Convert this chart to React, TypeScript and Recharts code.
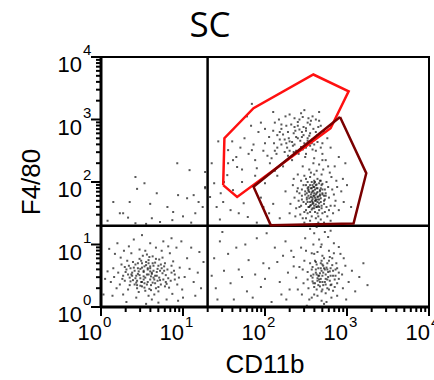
import { ScatterChart, Scatter, XAxis, YAxis, ReferenceLine, ReferenceArea } from 'recharts'

type Pt = [number, number]

// every event is stored in decades: [log10 CD11b, log10 F4/80]
const lowLeft: Pt[] = [
  [0.62, 0.55], [0.48, 0.61], [0.71, 0.47], [0.55, 0.72], [0.38, 0.5], [0.66, 0.38], [0.81, 0.6], [0.44, 0.42], [0.59, 0.29], [0.73, 0.68],
  [0.29, 0.64], [0.52, 0.49], [0.9, 0.52], [0.35, 0.35], [0.63, 0.81], [0.47, 0.77], [0.78, 0.33], [0.21, 0.55], [0.57, 0.6], [0.68, 0.56],
  [0.41, 0.58], [0.85, 0.42], [0.5, 0.33], [0.32, 0.74], [0.75, 0.79], [0.6, 0.44], [0.96, 0.63], [0.26, 0.45], [0.45, 0.53], [0.7, 0.25],
  [0.54, 0.9], [0.37, 0.86], [0.88, 0.73], [0.15, 0.62], [0.64, 0.66], [0.49, 0.4], [1.02, 0.48], [0.33, 0.28], [0.79, 0.51], [0.58, 0.18],
  [0.42, 0.68], [0.67, 0.95], [0.24, 0.79], [0.93, 0.36], [0.53, 0.65], [0.76, 0.44], [0.39, 0.43], [0.12, 0.4], [0.61, 0.35], [0.84, 0.86],
  [1.08, 0.61], [0.46, 0.24], [0.3, 0.56], [0.72, 0.58], [0.56, 0.52], [0.19, 0.3], [0.99, 0.28], [0.65, 0.2], [0.34, 0.97], [0.87, 0.21],
  [0.51, 0.82], [0.08, 0.57], [0.74, 0.9], [0.43, 0.15], [1.13, 0.4], [0.27, 0.2], [0.6, 1.02], [0.92, 0.95], [0.17, 0.85], [0.8, 0.12],
  [0.36, 0.62], [0.69, 0.42], [1.05, 0.78], [0.23, 0.36], [0.57, 0.4], [0.47, 0.92], [0.83, 0.31], [0.05, 0.45], [0.62, 0.12], [1.18, 0.55],
  [0.4, 1.08], [0.95, 0.47], [0.28, 0.9], [0.76, 1.05], [0.14, 0.18], [1.0, 0.15], [0.5, 1.15], [1.22, 0.3], [0.31, 0.08], [0.86, 1.1],
  [0.55, 0.05], [1.1, 0.95], [0.2, 1.02], [0.7, 0.07], [1.25, 0.72], [0.1, 0.93], [0.44, 0.3], [0.63, 0.7], [0.52, 0.58], [0.77, 0.65],
  [0.35, 0.47], [0.58, 0.75], [0.89, 0.58], [0.41, 0.36], [0.66, 0.5], [0.25, 0.68], [1.15, 0.18], [0.82, 0.97], [0.03, 0.2], [0.98, 1.05],
  [0.48, 0.46], [0.73, 0.36], [0.6, 0.62], [0.54, 0.26], [0.39, 0.72], [0.86, 0.66], [1.2, 0.88], [0.16, 0.48], [0.94, 0.1], [0.67, 0.3],
  [0.45, 0.62], [0.56, 0.84], [0.71, 0.76], [0.33, 0.52], [0.64, 0.47], [0.5, 0.7], [0.79, 0.4], [0.43, 0.5], [0.6, 0.57], [0.53, 0.38],
]

const lowLeftCore: Pt[] = [
  [0.58, 0.52], [0.46, 0.57], [0.69, 0.61], [0.52, 0.44], [0.63, 0.39], [0.4, 0.63], [0.75, 0.54], [0.55, 0.67], [0.36, 0.41], [0.7, 0.32],
  [0.49, 0.74], [0.61, 0.49], [0.82, 0.46], [0.44, 0.35], [0.57, 0.62], [0.66, 0.71], [0.31, 0.6], [0.78, 0.7], [0.53, 0.31], [0.47, 0.51],
  [0.72, 0.43], [0.38, 0.55], [0.59, 0.8], [0.86, 0.55], [0.42, 0.46], [0.64, 0.58], [0.5, 0.63], [0.27, 0.5], [0.74, 0.62], [0.56, 0.36],
  [0.68, 0.5], [0.45, 0.7], [0.61, 0.27], [0.8, 0.37], [0.34, 0.66], [0.52, 0.56], [0.65, 0.44], [0.43, 0.39], [0.77, 0.58], [0.58, 0.7],
  [0.48, 0.34], [0.7, 0.66], [0.37, 0.52], [0.62, 0.53], [0.54, 0.47], [0.9, 0.44], [0.29, 0.42], [0.67, 0.77], [0.5, 0.4], [0.6, 0.65],
]

const lowRight: Pt[] = [
  [2.65, 0.5], [2.72, 0.62], [2.58, 0.41], [2.8, 0.35], [2.69, 0.74], [2.52, 0.56], [2.77, 0.48], [2.63, 0.28], [2.86, 0.6], [2.55, 0.7],
  [2.74, 0.22], [2.6, 0.85], [2.9, 0.45], [2.47, 0.38], [2.68, 0.96], [2.82, 0.78], [2.57, 0.15], [2.95, 0.3], [2.42, 0.64], [2.7, 0.4],
  [2.62, 0.6], [2.78, 0.9], [2.5, 0.9], [2.88, 0.18], [2.66, 1.08], [2.45, 0.2], [2.98, 0.66], [2.59, 1.0], [2.75, 0.08], [2.84, 1.02],
  [2.38, 0.47], [2.64, 0.18], [2.92, 0.85], [2.53, 0.3], [2.71, 0.55], [2.6, 1.18], [2.8, 0.62], [2.49, 1.1], [3.02, 0.4], [2.67, 0.33],
  [2.76, 0.7], [2.56, 0.5], [2.83, 0.26], [2.62, 0.72], [2.73, 1.2], [2.35, 0.8], [2.94, 0.52], [2.69, 0.1], [2.51, 0.02], [2.85, 0.44],
  [2.64, 0.88], [2.79, 0.57], [2.44, 0.95], [2.99, 0.12], [2.58, 0.64], [2.7, 0.82], [2.87, 0.7], [2.55, 1.25], [2.66, 0.44], [2.81, 0.15],
  [3.06, 0.58], [2.4, 0.28], [2.74, 0.36], [2.61, 0.38], [2.77, 1.12], [2.9, 0.96], [2.48, 0.74], [2.68, 0.62], [2.83, 0.5], [2.57, 0.86],
  [3.1, 0.25], [2.63, 1.28], [2.72, 0.05], [2.52, 0.44], [2.96, 0.78], [2.67, 0.54], [2.78, 0.28], [2.46, 0.6], [2.88, 0.38], [2.6, 0.2],
  [2.7, 0.68], [2.59, 0.52], [2.76, 0.44], [2.84, 0.86], [2.64, 0.42], [2.73, 0.6], [3.15, 0.48], [2.54, 0.12], [2.69, 1.0], [2.8, 1.22],
  [3.2, 0.7], [3.25, 0.35],
]

const lowRightCore: Pt[] = [
  [2.68, 0.45], [2.74, 0.52], [2.62, 0.55], [2.79, 0.42], [2.71, 0.66], [2.65, 0.35], [2.83, 0.58], [2.58, 0.47], [2.76, 0.3], [2.69, 0.58],
  [2.86, 0.5], [2.63, 0.68], [2.73, 0.4], [2.6, 0.32], [2.78, 0.74], [2.66, 0.5], [2.81, 0.36], [2.7, 0.28], [2.57, 0.6], [2.75, 0.63],
  [2.88, 0.62], [2.64, 0.46], [2.72, 0.78], [2.8, 0.5], [2.67, 0.4], [2.77, 0.56], [2.61, 0.74], [2.85, 0.32], [2.7, 0.5], [2.74, 0.45],
  [2.68, 0.7], [2.82, 0.67], [2.59, 0.38], [2.76, 0.6], [2.65, 0.62], [2.9, 0.55], [2.71, 0.35], [2.63, 0.52], [2.79, 0.8], [2.69, 0.25],
]

const lowTail: Pt[] = [
  [1.4, 0.3], [1.55, 0.85], [1.72, 0.48], [1.9, 1.1], [2.05, 0.62], [2.2, 0.2], [1.62, 0.12], [1.8, 0.75], [2.12, 0.95], [2.28, 0.55],
  [1.45, 1.05], [1.95, 0.32], [2.32, 0.9], [1.68, 0.6], [2.18, 0.4], [1.5, 0.58], [2.02, 1.18], [1.85, 0.15], [2.25, 1.05], [1.38, 0.78],
  [2.08, 0.08], [1.76, 1.0], [2.3, 0.28], [1.58, 0.38], [1.98, 0.7], [2.15, 0.72], [1.42, 0.12], [1.88, 0.52], [2.35, 0.65], [1.65, 0.95],
  [2.22, 0.82], [1.35, 0.5], [2.0, 0.45], [1.78, 0.25], [2.26, 0.12], [1.48, 1.2],
]

const macrophages: Pt[] = [
  [2.58, 1.85], [2.62, 1.72], [2.5, 1.95], [2.68, 1.9], [2.55, 1.62], [2.64, 2.05], [2.45, 1.78], [2.72, 1.65], [2.6, 1.98], [2.52, 1.5],
  [2.7, 1.8], [2.48, 2.1], [2.66, 1.55], [2.57, 1.7], [2.75, 2.0], [2.42, 1.6], [2.61, 1.88], [2.54, 2.2], [2.78, 1.75], [2.5, 1.42],
  [2.63, 1.6], [2.69, 2.12], [2.4, 1.9], [2.56, 1.8], [2.82, 1.88], [2.47, 1.68], [2.65, 1.45], [2.59, 2.3], [2.73, 1.52], [2.53, 1.92],
  [2.67, 1.78], [2.44, 2.02], [2.8, 1.62], [2.58, 1.58], [2.62, 1.95], [2.36, 1.75], [2.71, 2.2], [2.55, 1.38], [2.86, 1.7], [2.49, 1.85],
  [2.64, 1.68], [2.6, 2.12], [2.77, 1.92], [2.51, 1.75], [2.68, 1.4], [2.43, 1.48], [2.57, 2.0], [2.74, 1.82], [2.46, 2.25], [2.63, 1.82],
  [2.9, 1.55], [2.38, 1.58], [2.59, 1.66], [2.7, 1.97], [2.53, 1.6], [2.66, 2.28], [2.48, 1.35], [2.81, 2.08], [2.56, 1.9], [2.61, 1.52],
  [2.34, 1.95], [2.73, 1.72], [2.5, 2.05], [2.65, 1.62], [2.88, 1.92], [2.57, 1.45], [2.42, 1.82], [2.69, 1.58], [2.6, 1.78], [2.76, 1.45],
  [2.52, 1.68], [2.63, 2.18], [2.45, 1.72], [2.84, 1.8], [2.55, 2.08], [2.67, 1.85], [2.4, 2.12], [2.72, 1.35], [2.58, 1.75], [2.31, 1.65],
  [2.79, 2.15], [2.5, 1.55], [2.62, 1.42], [2.93, 1.85], [2.47, 1.95], [2.66, 1.72], [2.54, 1.84], [2.7, 2.35], [2.37, 1.45], [2.83, 1.5],
  [2.59, 1.92], [2.64, 1.5], [2.44, 1.62], [2.75, 1.6], [2.56, 2.15], [2.68, 1.68], [2.51, 1.82], [2.87, 2.02], [2.6, 1.62], [2.48, 1.52],
  [2.73, 1.88], [2.35, 2.05], [2.62, 1.8], [2.55, 1.52], [2.8, 1.38], [2.67, 2.02], [2.45, 1.88], [2.58, 1.68], [2.96, 1.68], [2.52, 2.0],
  [2.7, 1.5], [2.41, 1.7], [2.63, 1.9], [2.77, 2.25], [2.57, 1.56], [2.65, 1.35], [2.5, 1.65], [2.85, 1.62], [2.6, 2.02], [2.46, 1.42],
  [2.72, 1.78], [2.54, 1.74], [2.66, 1.98], [2.39, 1.85], [2.78, 1.55], [2.61, 1.7], [2.53, 1.88], [2.69, 1.62], [2.58, 1.95], [2.64, 1.76],
  [3.0, 1.95], [3.05, 1.6], [2.98, 2.3], [2.9, 2.4], [2.85, 2.25], [2.95, 2.05],
]

const macrophageCore: Pt[] = [
  [2.6, 1.82], [2.56, 1.76], [2.64, 1.9], [2.58, 1.65], [2.67, 1.8], [2.53, 1.86], [2.62, 1.7], [2.7, 1.88], [2.55, 1.95], [2.63, 1.6],
  [2.59, 1.78], [2.66, 1.66], [2.51, 1.72], [2.61, 2.0], [2.68, 1.74], [2.57, 1.9], [2.64, 1.84], [2.72, 1.7], [2.54, 1.6], [2.6, 1.92],
  [2.65, 1.77], [2.49, 1.8], [2.62, 1.64], [2.69, 1.95], [2.57, 1.83], [2.66, 1.6], [2.52, 1.9], [2.61, 1.75], [2.7, 1.82], [2.58, 1.72],
  [2.63, 1.96], [2.55, 1.68], [2.67, 1.87], [2.6, 1.58], [2.74, 1.78], [2.53, 1.78], [2.64, 1.72], [2.59, 1.86], [2.68, 2.02], [2.56, 1.63],
]

const upperGatePop: Pt[] = [
  [2.3, 2.65], [2.45, 2.8], [2.15, 2.55], [2.52, 2.95], [2.38, 2.5], [2.2, 2.85], [2.6, 2.7], [2.05, 2.72], [2.42, 3.0], [2.28, 2.42],
  [2.55, 2.58], [2.12, 2.95], [2.35, 2.78], [2.65, 2.88], [1.98, 2.5], [2.48, 2.62], [2.25, 3.05], [2.58, 3.05], [2.08, 2.38], [2.4, 2.7],
  [2.7, 2.62], [2.18, 2.68], [2.5, 2.45], [2.32, 2.92], [1.92, 2.8], [2.62, 2.5], [2.27, 2.55], [2.44, 3.1], [2.0, 2.62], [2.55, 2.78],
  [2.14, 2.45], [2.36, 2.6], [2.66, 2.98], [1.86, 2.6], [2.47, 2.88], [2.22, 2.76], [2.6, 2.38], [2.1, 2.82], [2.33, 2.35], [2.52, 2.7],
  [1.8, 2.45], [2.4, 2.9], [2.72, 2.8], [2.17, 3.0], [2.29, 2.7], [2.57, 2.62], [2.03, 2.42], [2.46, 2.52], [2.64, 2.75], [1.95, 2.95],
  [2.37, 2.82], [2.24, 2.48], [2.53, 3.02], [2.11, 2.62], [2.68, 2.55], [1.75, 2.7], [2.43, 2.66], [2.3, 3.08], [2.59, 2.85], [2.06, 2.3],
  [2.49, 2.4], [2.2, 2.92], [2.76, 2.7], [1.88, 2.35], [2.34, 2.58], [2.62, 3.0], [2.15, 2.75], [2.41, 2.45], [1.7, 2.55], [2.55, 2.92],
  [2.26, 2.62], [2.7, 2.45], [2.0, 2.85], [2.45, 2.72], [1.83, 2.9], [2.36, 3.02], [2.58, 2.68], [2.12, 2.5], [2.5, 2.82], [1.65, 2.4],
  [1.72, 2.2], [1.6, 2.65], [1.9, 2.22], [2.74, 2.35], [1.55, 2.3], [2.8, 2.55], [2.66, 3.12], [2.1, 3.12], [1.78, 3.05], [2.48, 3.15],
  [2.38, 2.72], [2.5, 2.86], [2.28, 2.8], [2.44, 2.56], [2.56, 2.98], [2.33, 2.64], [2.62, 2.8], [2.2, 2.6], [2.47, 2.75], [2.4, 2.96],
  [2.58, 2.52], [2.26, 2.9], [2.52, 2.66], [2.35, 2.48], [2.64, 2.64], [2.18, 2.8], [2.42, 2.84], [2.3, 2.5], [2.54, 2.74], [2.46, 3.04],
  [2.68, 2.9], [2.24, 2.68], [2.36, 2.88], [2.6, 2.6], [2.5, 2.55],
]

const scattered: Pt[] = [
  [0.93, 2.3], [1.08, 2.19], [0.42, 2.08], [0.53, 1.98], [0.44, 1.89], [0.68, 1.82], [0.15, 1.68], [0.35, 1.68], [0.6, 1.65], [0.81, 1.6],
  [1.13, 1.79], [0.94, 1.79], [1.05, 1.74], [1.27, 2.16], [1.27, 1.9], [0.27, 1.5], [0.33, 1.43], [0.62, 1.42], [0.88, 1.52], [1.0, 1.45],
  [1.15, 1.5], [1.24, 1.6], [1.19, 1.68], [0.72, 1.36], [0.42, 1.34], [0.87, 1.39], [0.23, 1.5], [0.08, 1.38], [0.55, 1.33], [1.1, 1.35],
  [1.43, 2.65], [1.27, 1.92], [1.38, 1.98], [1.33, 1.76], [1.41, 1.6], [1.49, 1.68], [1.58, 1.55], [1.68, 1.5], [1.74, 1.66], [1.79, 1.44],
  [1.61, 1.87], [1.54, 2.11], [1.66, 2.24], [1.72, 2.0], [1.84, 2.51], [1.61, 2.35], [1.55, 2.51], [1.84, 3.25], [1.45, 1.4], [1.9, 1.35],
  [2.05, 1.5], [1.95, 1.75], [2.1, 1.65], [2.18, 1.42], [2.0, 1.98], [2.15, 2.1], [2.25, 1.85], [2.22, 2.25], [2.12, 2.18], [1.88, 2.1],
  [1.5, 2.0], [1.35, 2.3], [1.46, 1.82], [1.98, 1.6], [2.3, 1.5],
]

// gate outlines, in decades
const redGate: Pt[] = [[1.49, 1.95], [1.505, 2.7], [1.86, 3.18], [2.59, 3.72], [3.02, 3.45], [2.8, 2.86], [1.66, 1.76]]
const maroonGate: Pt[] = [[2.915, 3.04], [3.235, 2.14], [3.08, 1.335], [2.07, 1.31], [1.86, 1.925]]

const decades = [0, 1, 2, 3, 4]
const quadrantCut = 1.3

const axisTicks = decades.flatMap((d) =>
  d < 4 ? [d, 2, 3, 4, 5, 6, 7, 8, 9].map((k, i) => (i === 0 ? d : d + Math.log10(k))) : [d]
)

const events = [
  ...lowLeft, ...lowLeftCore, ...lowTail, ...lowRight, ...lowRightCore,
  ...macrophages, ...macrophageCore, ...upperGatePop, ...scattered,
].map(([x, y]) => ({ x, y }))
const closed = (g: Pt[]) => [...g, g[0]].map(([x, y]) => ({ x, y }))

const FONT = '"Liberation Sans", Arial, sans-serif'

const isMajor = (v: number) => Math.abs(v - Math.round(v)) < 1e-6

function XTick({ x, y, payload }: any) {
  const v = payload.value
  const major = isMajor(v)
  return (
    <g>
      <line x1={x} x2={x} y1={y} y2={y + (major ? 9 : 5)} stroke="#000" strokeWidth={2} />
      {major && (
        <>
          <text x={x + 1} y={y + 33} textAnchor="end" fontSize={22} fontFamily={FONT} fill="#000">10</text>
          <text x={x + 2} y={y + 20} fontSize={15} fontFamily={FONT} fill="#000">{Math.round(v)}</text>
        </>
      )}
    </g>
  )
}

function YTick({ x, y, payload }: any) {
  const v = payload.value
  const major = isMajor(v)
  return (
    <g>
      <line x1={x - (major ? 10 : 5)} x2={x} y1={y} y2={y} stroke="#000" strokeWidth={2} />
      {major && (
        <>
          <text x={x - 19} y={y + 15} textAnchor="end" fontSize={22} fontFamily={FONT} fill="#000">10</text>
          <text x={x - 18} y={y - 2} fontSize={15} fontFamily={FONT} fill="#000">{Math.round(v)}</text>
        </>
      )}
    </g>
  )
}

const EventDot = (p: any) => (
  <rect x={p.cx - 1} y={p.cy - 1} width={2} height={2} fill="#111" fillOpacity={0.7} />
)

export default function App() {
  return (
    <div style={{ position: 'absolute', left: 0, top: 0, width: 434, height: 380, background: '#fff' }}>
      <svg width={434} height={50} style={{ position: 'absolute', left: 0, top: 0 }}>
        <text x={210} y={37} textAnchor="middle" fontSize={35} fontFamily='"Open Sans", sans-serif' fill="#000">SC</text>
      </svg>
      <ScatterChart width={434} height={380} margin={{ top: 57, right: 5, bottom: 13, left: 11 }}>
        <XAxis
          type="number"
          dataKey="x"
          domain={[0, 4]}
          ticks={axisTicks}
          interval={0}
          height={60}
          tickSize={0}
          tickMargin={0}
          tick={<XTick />}
          axisLine={{ stroke: '#000', strokeWidth: 3 }}
          label={() => (
            <text x={265} y={373} textAnchor="middle" fontSize={26} fontFamily={FONT} fill="#000">CD11b</text>
          )}
        />
        <YAxis
          type="number"
          dataKey="y"
          domain={[0, 4]}
          ticks={axisTicks}
          interval={0}
          width={90}
          tickSize={0}
          tickMargin={0}
          tick={<YTick />}
          axisLine={{ stroke: '#000', strokeWidth: 3 }}
          label={() => (
            <text x={39.5} y={182} transform="rotate(-90 39.5 182)" textAnchor="middle" fontSize={26} fontFamily={FONT} fill="#000">F4/80</text>
          )}
        />
        <ReferenceArea x1={0} x2={4} y1={0} y2={4} fill="none" stroke="#000" strokeWidth={2} />
        <Scatter data={events} shape={EventDot} isAnimationActive={false} />
        <ReferenceLine x={quadrantCut} stroke="#000" strokeWidth={2.5} />
        <ReferenceLine y={quadrantCut} stroke="#000" strokeWidth={2.5} />
        <Scatter
          data={closed(redGate)}
          fill="#ff1010"
          line={{ stroke: '#ff1010', strokeWidth: 2.5 }}
          lineJointType="linear"
          shape={() => <g />}
          isAnimationActive={false}
        />
        <Scatter
          data={closed(maroonGate)}
          fill="#7a0000"
          line={{ stroke: '#7a0000', strokeWidth: 2.5 }}
          lineJointType="linear"
          shape={() => <g />}
          isAnimationActive={false}
        />
      </ScatterChart>
    </div>
  )
}
